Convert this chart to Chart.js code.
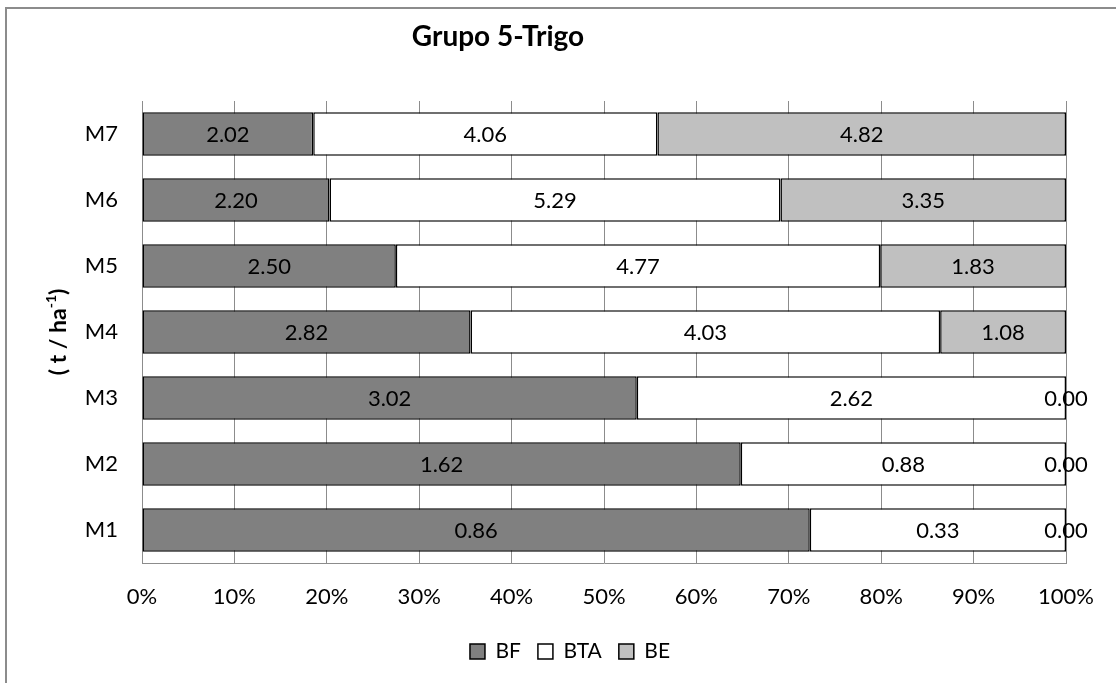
<!DOCTYPE html>
<html>
<head>
<meta charset="utf-8">
<script src="https://cdn.jsdelivr.net/npm/chart.js@4.4.1/dist/chart.umd.min.js"></script>
<style>
  html, body { margin: 0; padding: 0; background: #ffffff; }
  #wrap { width: 1116px; height: 683px; position: relative; }
</style>
</head>
<body>
<div id="wrap"><canvas id="chart" width="1116" height="683"></canvas></div>
<script>
// Biomass components (t / ha-1) per treatment
const categories = ['M1', 'M2', 'M3', 'M4', 'M5', 'M6', 'M7'];
const seriesNames = ['BF', 'BTA', 'BE'];
const valuesBF  = [0.86, 1.62, 3.02, 2.82, 2.50, 2.20, 2.02];
const valuesBTA = [0.33, 0.88, 2.62, 4.03, 4.77, 5.29, 4.06];
const valuesBE  = [0.00, 0.00, 0.00, 1.08, 1.83, 3.35, 4.82];
const tickLabels = ['0%', '10%', '20%', '30%', '40%', '50%', '60%', '70%', '80%', '90%', '100%'];
const chartTitle = 'Grupo 5-Trigo';

const FONT = 'Lato, "Liberation Sans", sans-serif';

// Share of each component in the row total (100% stacked bars)
const totals = categories.map((_, i) => valuesBF[i] + valuesBTA[i] + valuesBE[i]);
const share = arr => arr.map((v, i) => v / totals[i] * 100);

const rawBySeries = [valuesBF, valuesBTA, valuesBE];

// Frame, title and rotated axis title
const decorations = {
  id: 'decorations',
  afterLayout(chart) {
    // legend sits centred under the whole frame rather than the plot
    const lg = chart.legend;
    if (lg) { lg.left += 37; lg.right += 37; }
  },
  beforeDraw(chart) {
    const ctx = chart.ctx;
    ctx.save();
    ctx.fillStyle = '#ffffff';
    ctx.fillRect(0, 0, chart.width, chart.height);
    ctx.strokeStyle = '#8c8c8c';
    ctx.lineWidth = 2;
    ctx.beginPath();
    ctx.moveTo(6, chart.height);
    ctx.lineTo(6, 8);
    ctx.lineTo(chart.width, 8);
    ctx.stroke();
    ctx.restore();
  },
  afterDraw(chart) {
    const ctx = chart.ctx;
    const area = chart.chartArea;
    ctx.save();
    ctx.fillStyle = '#000000';
    ctx.font = 'bold 28px ' + FONT;
    ctx.textAlign = 'center';
    ctx.textBaseline = 'middle';
    ctx.fillText(chartTitle, 498, 37);

    // "( t / ha-1)" with superscript exponent, read bottom to top
    const main = '( t / ha';
    const sup = '-1';
    const tail = ')';
    ctx.translate(58, (area.top + area.bottom) / 2);
    ctx.rotate(-Math.PI / 2);
    ctx.font = 'bold 23px ' + FONT;
    const wMain = ctx.measureText(main).width;
    const wTail = ctx.measureText(tail).width;
    ctx.font = 'bold 14px ' + FONT;
    const wSup = ctx.measureText(sup).width;
    const total = wMain + wSup + wTail;
    let x = -total / 2;
    ctx.textAlign = 'left';
    ctx.textBaseline = 'alphabetic';
    ctx.font = 'bold 23px ' + FONT;
    ctx.fillText(main, x, 8);
    x += wMain;
    ctx.font = 'bold 14px ' + FONT;
    ctx.fillText(sup, x, -2);
    x += wSup;
    ctx.font = 'bold 23px ' + FONT;
    ctx.fillText(tail, x, 8);
    ctx.restore();
  }
};

// Raw values written at the middle of each segment
const segmentLabels = {
  id: 'segmentLabels',
  afterDatasetsDraw(chart) {
    const ctx = chart.ctx;
    ctx.save();
    ctx.font = '22px ' + FONT;
    ctx.fillStyle = '#000000';
    ctx.textAlign = 'center';
    ctx.textBaseline = 'middle';
    chart.data.datasets.forEach((ds, di) => {
      const meta = chart.getDatasetMeta(di);
      meta.data.forEach((bar, i) => {
        const cx = (bar.x + bar.base) / 2;
        ctx.fillText(rawBySeries[di][i].toFixed(2), cx, bar.y + 1);
      });
    });
    ctx.restore();
  }
};

const colors = ['#808080', '#ffffff', '#c0c0c0'];

new Chart(document.getElementById('chart'), {
  type: 'bar',
  data: {
    labels: categories,
    datasets: rawBySeries.map((arr, k) => ({
      label: seriesNames[k],
      data: share(arr),
      backgroundColor: colors[k],
      borderColor: '#000000',
      borderWidth: 1.5,
      borderSkipped: false,
      categoryPercentage: 1,
      barPercentage: 0.657
    }))
  },
  options: {
    indexAxis: 'y',
    responsive: false,
    devicePixelRatio: 1,
    animation: false,
    layout: { padding: { top: 101, right: 50, bottom: 11, left: 0 } },
    scales: {
      x: {
        stacked: true,
        min: 0,
        max: 100,
        ticks: {
          stepSize: 10,
          padding: 21,
          color: '#000000',
          font: { family: FONT, size: 22 },
          callback: (v, i) => tickLabels[i]
        },
        grid: { color: '#8c8c8c', lineWidth: 1, drawTicks: false },
        border: { display: true, color: '#8c8c8c', width: 1 },
        afterFit(scale) { scale.height = 61; }
      },
      y: {
        stacked: true,
        reverse: true,
        ticks: {
          padding: 24,
          color: '#000000',
          font: { family: FONT, size: 22 }
        },
        grid: { display: false, drawTicks: false },
        border: { display: true, color: '#8c8c8c', width: 1 },
        afterFit(scale) { scale.width = 142; }
      }
    },
    plugins: {
      legend: {
        position: 'bottom',
        labels: {
          boxWidth: 15,
          boxHeight: 15,
          padding: 17,
          color: '#000000',
          font: { family: FONT, size: 21 }
        }
      },
      tooltip: { enabled: false },
      title: { display: false }
    }
  },
  plugins: [decorations, segmentLabels]
});
</script>
</body>
</html>
